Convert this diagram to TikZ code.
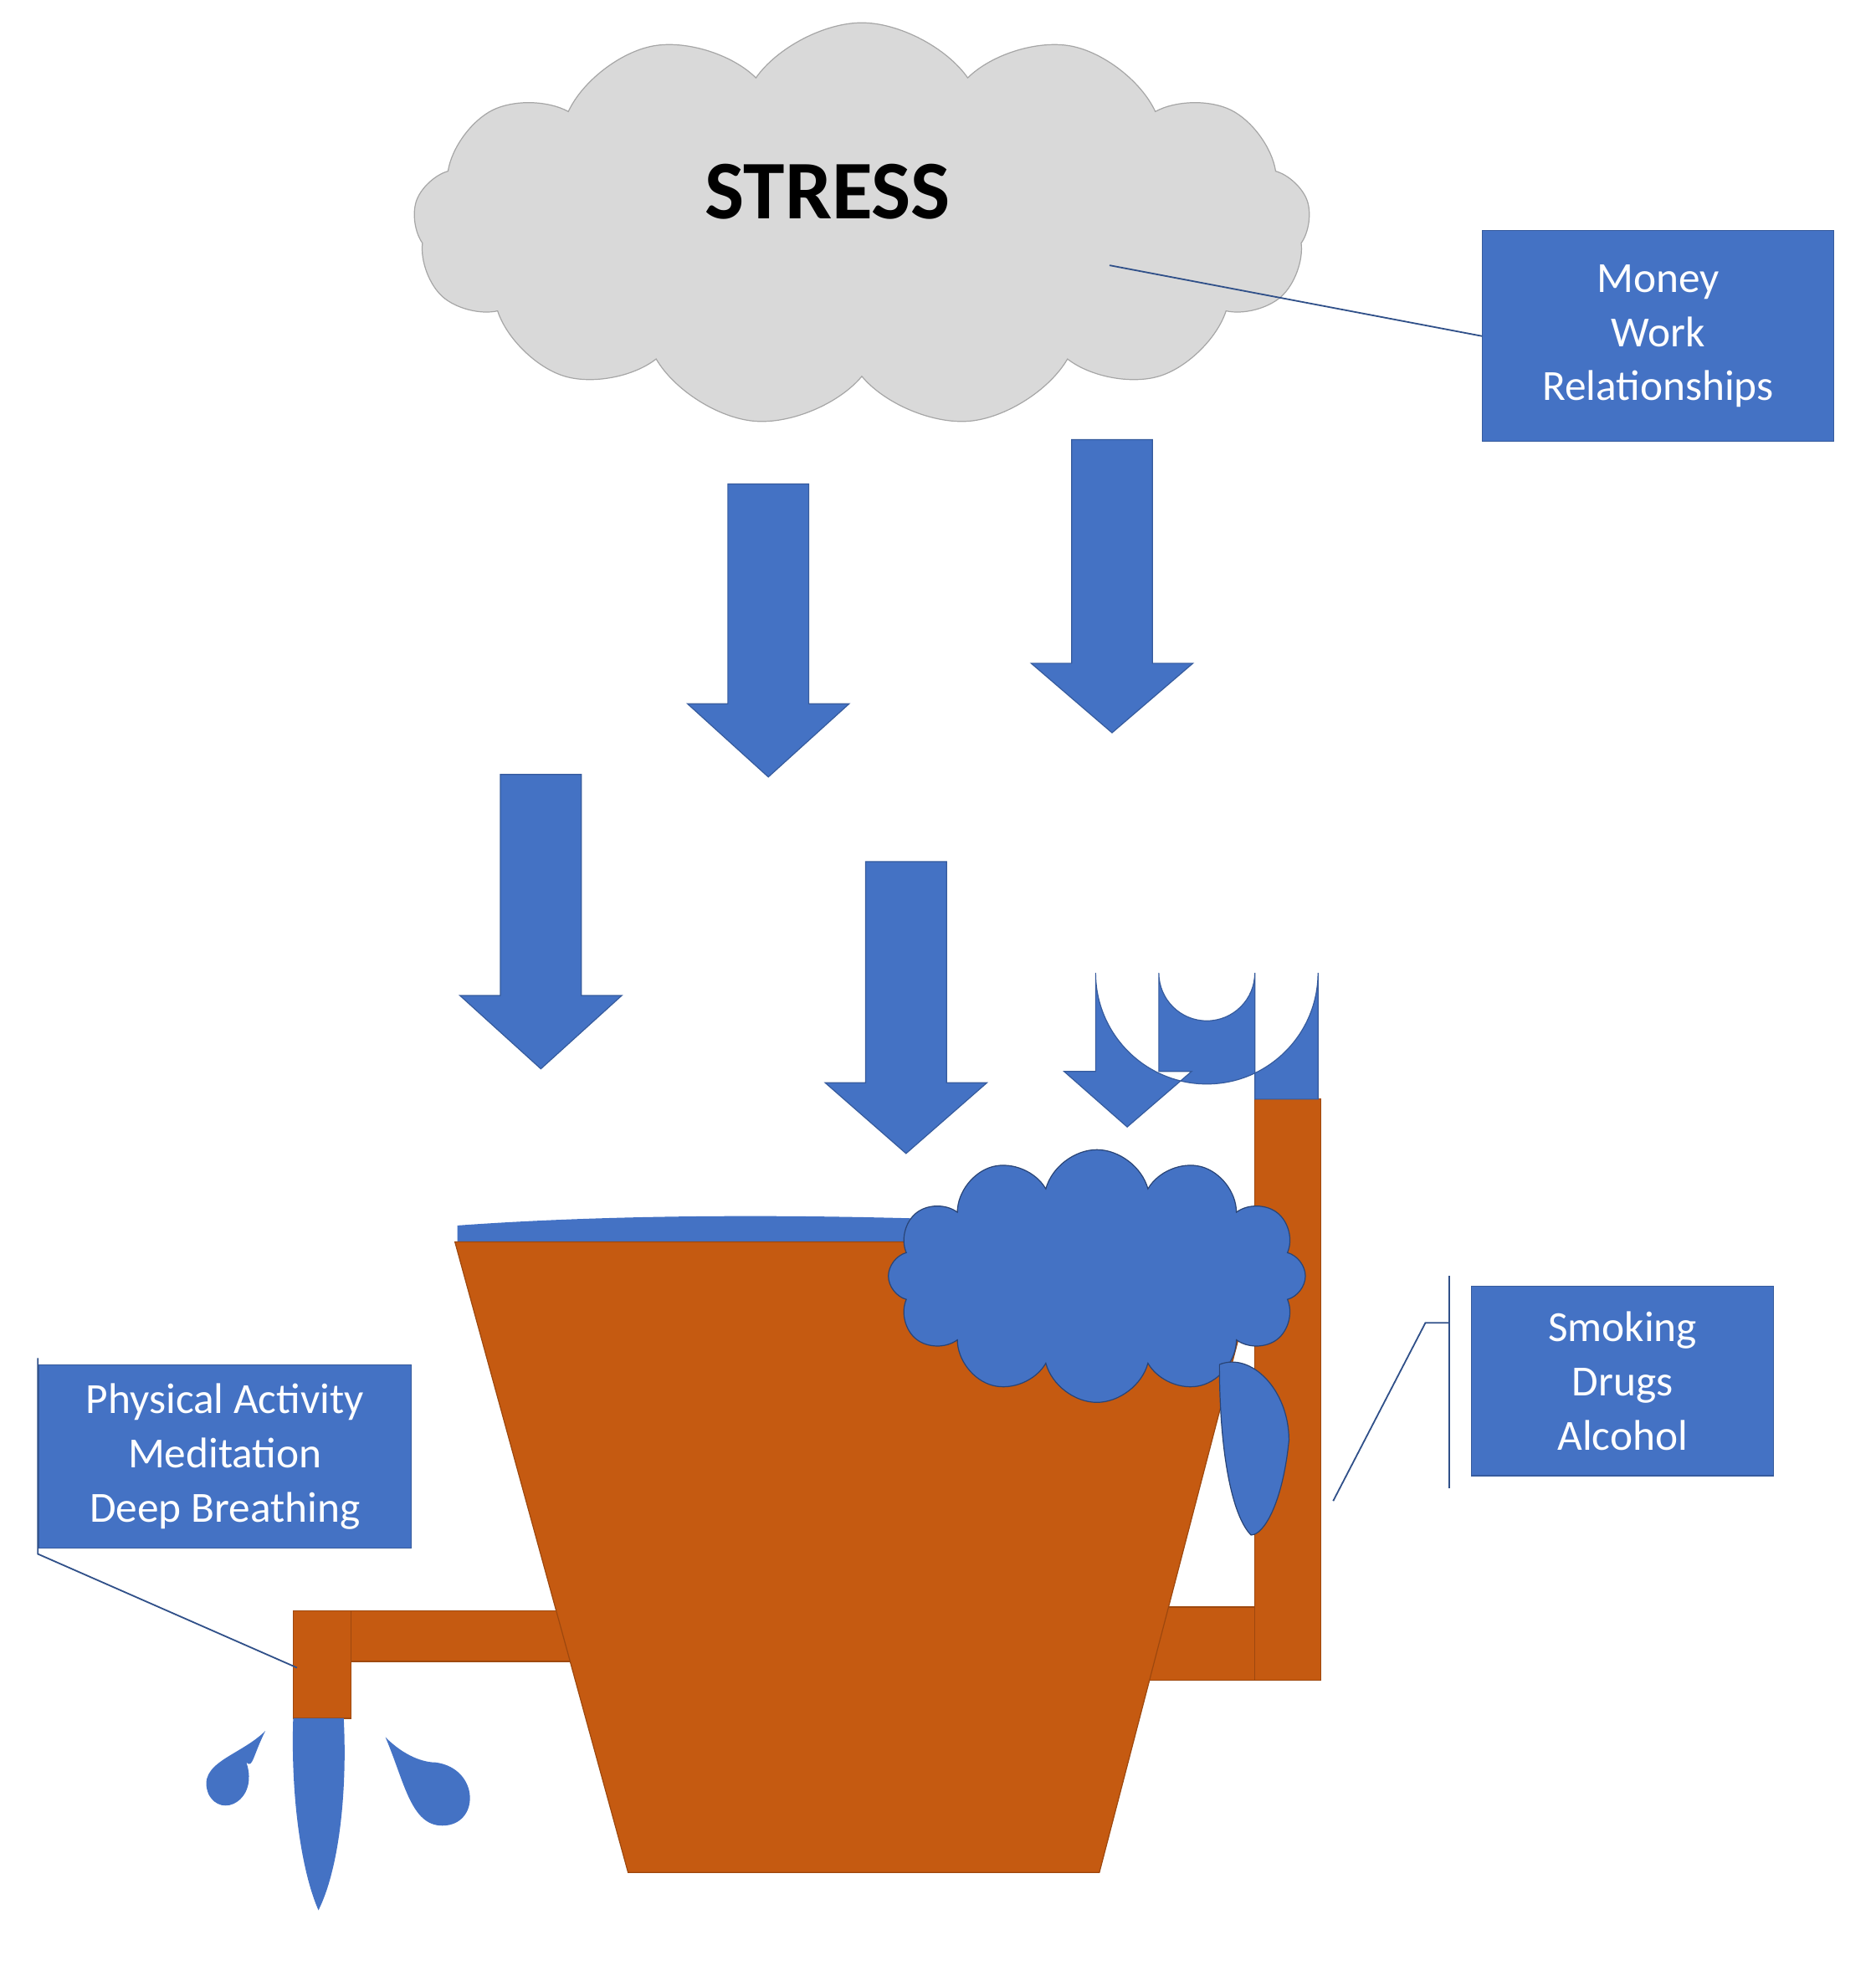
\documentclass[tikz,border=0pt]{standalone}
\usepackage{fontspec}
\setmainfont{Carlito}
\usetikzlibrary{shapes.symbols}
\definecolor{bl}{HTML}{4472C4}
\definecolor{org}{HTML}{C55A11}
\definecolor{cl}{HTML}{D9D9D9}
\begin{document}
\begin{tikzpicture}[x=0.5pt,y=-0.5pt,
 lbox/.style={draw=bl!80!black,fill=bl,text=white,font=\fontsize{17}{21.5}\selectfont,align=center,inner sep=0pt},
 blk/.style={fill=bl,draw=bl!80!black,line width=0.4pt},
 org/.style={fill=org,draw=org!80!black,line width=0.4pt},
 thin/.style={draw=bl!70!black,line width=0.6pt}]
\useasboundingbox (0,0) rectangle (1484,1568);
% cloud
\node[cloud,cloud puffs=13,cloud puff arc=110,aspect=2.3,fill=cl,draw=gray!70,minimum width=355pt,minimum height=160pt,font=\fontsize{33}{40}\selectfont\bfseries,inner sep=0pt] (stress) at (682,178) {};
\node[font=\fontsize{33}{40}\selectfont\bfseries] (st) at (655,152) {STRESS};
\coordinate (c1) at (878,210);
\node[lbox,minimum width=139pt,minimum height=83.5pt] (money) at (1312,266) {Money\\Work\\Relationships};
\draw[thin] (c1) -- (money.west);
% arrows
\foreach \x/\t/\h/\tip [count=\i] in {608/383/557/615, 880/348/525/580, 428/613/788/846, 717/682/857/913}{
 \fill[blk] (\x-32,\t) -- (\x+32,\t) -- (\x+32,\h) -- (\x+64,\h) -- (\x,\tip) -- (\x-64,\h) -- (\x-32,\h) -- cycle;
}
% bucket
\fill[bl] (362,970) .. controls (500,960) and (650,962) .. (745,965) -- (745,985) -- (362,985) -- cycle;
\path[org] (232,1275) rectangle (455,1315);
\path[org] (232,1275) rectangle (278,1360);
\path[org] (900,1272) rectangle (1045,1330);
\path[org] (993,870) rectangle (1045,1330);
\path[org] (360,983) -- (1000,983) -- (870,1482) -- (497,1482) -- cycle;
% U pipe arrow
\fill[blk] (993,870) -- (993,770) arc[start angle=0,end angle=180,radius=38] -- (917,848) -- (943,848) -- (892,892) -- (842,848) -- (867,848) -- (867,770) arc[start angle=180,end angle=0,radius=88] -- (1043,870) -- cycle;
% foam
\node[cloud,cloud puffs=12,aspect=1.6,fill=bl,draw=bl!60!black,minimum width=165pt,minimum height=100pt] (foam) at (868,1010) {};
\fill[bl,draw=bl!60!black] (965,1080) .. controls (990,1070) and (1020,1100) .. (1020,1140) .. controls (1015,1190) and (1000,1215) .. (990,1215) .. controls (975,1200) and (965,1150) .. (965,1080);
% drips
\fill[bl] (232,1360) -- (272,1360) .. controls (275,1420) and (268,1480) .. (252,1512) .. controls (238,1480) and (230,1420) .. (232,1360);
\fill[bl] (210,1370) .. controls (200,1390) and (200,1400) .. (195,1395) .. controls (205,1425) and (175,1440) .. (165,1420) .. controls (155,1395) and (190,1390) .. (210,1370);
\fill[bl] (305,1375) .. controls (320,1390) and (335,1395) .. (345,1395) .. controls (380,1400) and (380,1445) .. (350,1445) .. controls (325,1445) and (320,1410) .. (305,1375);
% labels
\node[lbox,minimum width=147.5pt,minimum height=72.5pt] (phys) at (178,1153) {Physical Activity\\Meditation\\Deep Breathing};
\coordinate (p1) at (30,1075); \coordinate (p2) at (30,1230); \coordinate (pf) at (235,1320);
\draw[thin] (p1) -- (p2) -- (pf);
\node[lbox,minimum width=119.5pt,minimum height=75pt] (smok) at (1284,1093) {Smoking\\Drugs\\Alcohol};
\coordinate (s1) at (1147,1010); \coordinate (s2) at (1147,1178); \coordinate (s3) at (1147,1047); \coordinate (s4) at (1128,1047); \coordinate (s5) at (1055,1188);
\draw[thin] (s1) -- (s2); \draw[thin] (s3) -- (s4) -- (s5);
\end{tikzpicture}
\end{document}
